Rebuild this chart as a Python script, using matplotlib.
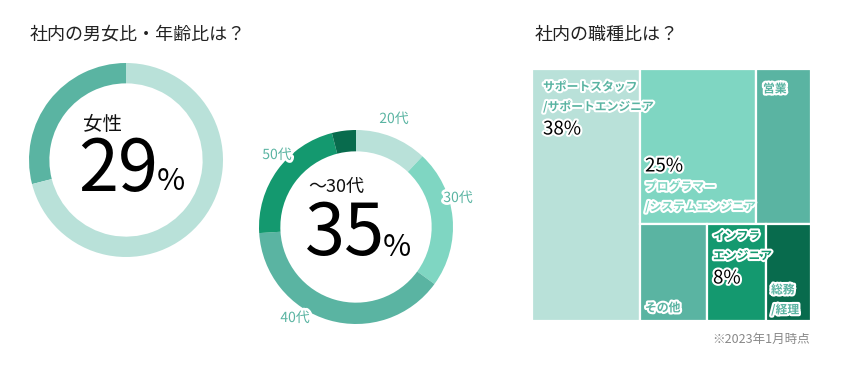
import matplotlib
matplotlib.use("Agg")
import matplotlib.pyplot as plt
import matplotlib.patheffects as pe
from matplotlib.patches import Rectangle

plt.rcParams["font.family"] = ["Noto Sans CJK JP", "DejaVu Sans"]

# colores
C_LIGHT = "#b9e1d9"
C_MINT = "#7fd6c2"
C_TEAL = "#5ab4a2"
C_GREEN = "#14996f"
C_DARK = "#086b4d"

# datos
gender_labels = ["女性", "男性"]
gender_values = [29, 71]

age_labels = ["20代", "30代", "40代", "50代", "60代"]
age_values = [12, 23, 39, 22, 4]

job_labels = ["サポートスタッフ\n/サポートエンジニア", "プログラマー\n/システムエンジニア",
              "営業", "その他", "インフラ\nエンジニア", "総務\n/経理"]
job_values = [38, 25, 12, 9, 8, 6]

W, H = 850, 371


def px(x, y):
    return x / W, 1 - y / H


def donut_axes(fig, cx, cy, r):
    return fig.add_axes([(cx - r) / W, 1 - (cy + r) / H, 2 * r / W, 2 * r / H])


def fix_donut(ax):
    # pie() pone sus propios limites, se corrigen despues
    ax.set_xlim(-1, 1)
    ax.set_ylim(-1, 1)
    ax.axis("off")


def outline(lw=3):
    return [pe.withStroke(linewidth=lw, foreground="white")]


fig = plt.figure(figsize=(W / 100, H / 100), dpi=100)

# titulos
fig.text(*px(30, 35), "社内の男女比・年齢比は？", fontsize=13, color="#222222", va="center")
fig.text(*px(535, 35), "社内の職種比は？", fontsize=13, color="#222222", va="center")

# donut 1: genero
ax1 = donut_axes(fig, 126, 160, 97)
ax1.pie(gender_values, colors=[C_TEAL, C_LIGHT], startangle=90, counterclock=True,
        radius=1, wedgeprops=dict(width=0.21, linewidth=0))
fix_donut(ax1)
fig.text(*px(83, 124), gender_labels[0], fontsize=14, color="#111111", va="center")
fig.text(*px(78, 170), str(gender_values[0]), fontsize=52, color="black", va="center")
fig.text(*px(157, 182), "%", fontsize=22, color="black", va="center")

# donut 2: edad
ax2 = donut_axes(fig, 356, 227, 97)
ax2.pie(age_values, colors=[C_LIGHT, C_MINT, C_TEAL, C_GREEN, C_DARK], startangle=90,
        counterclock=False, radius=1, wedgeprops=dict(width=0.22, linewidth=0))
fix_donut(ax2)
age_pos = [(394, 119), (458, 198), (295, 318), (277, 155)]
for lab, (x, y) in zip(age_labels, age_pos):
    fig.text(*px(x, y), lab, fontsize=10, color=C_TEAL, ha="center", va="center",
             path_effects=outline(4))
fig.text(*px(308, 187), "～" + age_labels[1], fontsize=13, color="#111111", va="center")
fig.text(*px(305, 234), str(age_values[0] + age_values[1]), fontsize=52, color="black", va="center")
fig.text(*px(383, 248), "%", fontsize=22, color="black", va="center")

# treemap
x0, y0, x1, y1 = 532, 69, 811, 321
axt = fig.add_axes([x0 / W, 1 - y1 / H, (x1 - x0) / W, (y1 - y0) / H])
axt.set_xlim(0, 1)
axt.set_ylim(0, 1)
axt.axis("off")

total = sum(job_values)
rects = []
w0 = job_values[0] / total
rects.append((0, 0, w0, 1))
rest = total - job_values[0]
rows = [[1, 2], [3, 4, 5]]
ytop = 1.0
for row in rows:
    rsum = sum(job_values[i] for i in row)
    h = rsum / rest
    xx = w0
    for i in row:
        w = (1 - w0) * job_values[i] / rsum
        rects.append((xx, ytop - h, w, h))
        xx += w
    ytop -= h

job_colors = [C_LIGHT, C_MINT, C_TEAL, C_TEAL, C_GREEN, C_DARK]
for (rx, ry, rw, rh), c in zip(rects, job_colors):
    axt.add_patch(Rectangle((rx, ry), rw, rh, facecolor=c, edgecolor="white", linewidth=1.6))

lab_kw = dict(fontsize=8.5, fontweight="bold", va="center", linespacing=1.7, path_effects=outline(3))
pct_kw = dict(fontsize=13.5, color="black", va="center", path_effects=outline(3))

fig.text(*px(543, 97), job_labels[0], color=C_TEAL, **lab_kw)
fig.text(*px(543, 129), f"{job_values[0]}%", **pct_kw)
fig.text(*px(645, 166), f"{job_values[1]}%", **pct_kw)
fig.text(*px(645, 197), job_labels[1], color=C_MINT, **lab_kw)
fig.text(*px(763, 89), job_labels[2], color=C_TEAL, **lab_kw)
fig.text(*px(645, 308), job_labels[3], color=C_TEAL, **lab_kw)
fig.text(*px(713, 246), job_labels[4], color=C_GREEN, **lab_kw)
fig.text(*px(713, 278), f"{job_values[4]}%", **pct_kw)
fig.text(*px(771, 300), job_labels[5], color=C_TEAL, **lab_kw)

fig.text(*px(810, 339), "※2023年1月時点", fontsize=9, color="#888888", ha="right", va="center")

fig.savefig("out.png", dpi=100)
